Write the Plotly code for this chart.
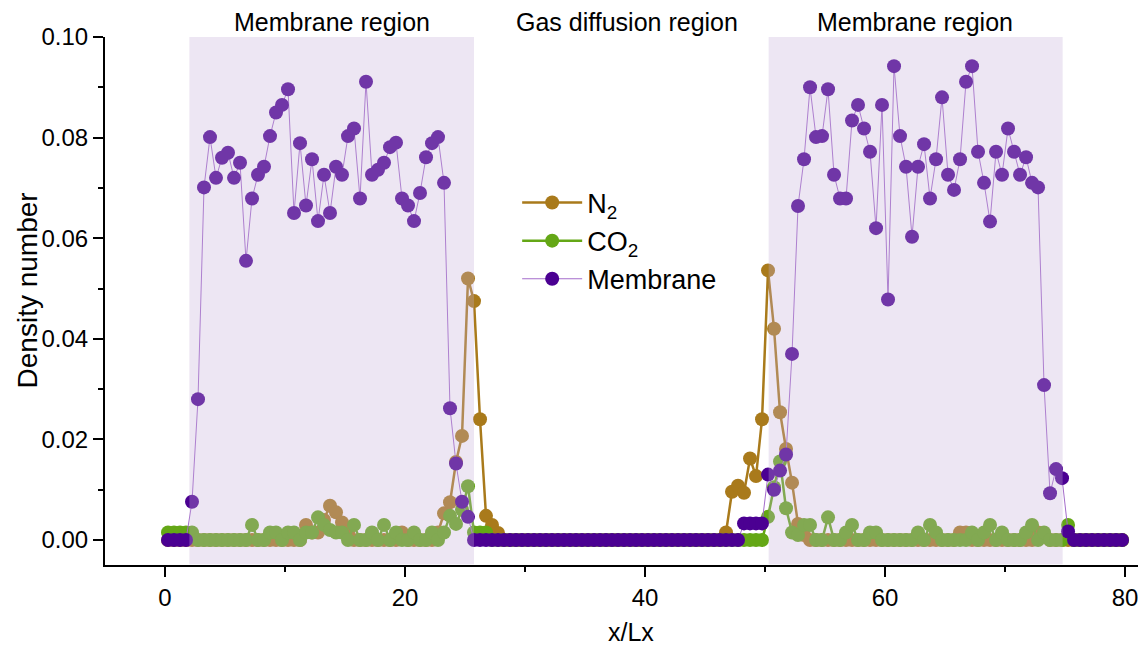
import numpy as np
import plotly.graph_objects as go

# x positions (x/Lx), 160 bins of width 0.5
x_vals = [0.25 + 0.5 * i for i in range(160)]

membrane = [
    0, 0, 0, 0, 0.0076, 0.028, 0.0701, 0.0801, 0.0720, 0.0760,
    0.0770, 0.0720, 0.0750, 0.0555, 0.0679, 0.0726, 0.0742, 0.0803, 0.0850, 0.0865,
    0.0896, 0.0650, 0.0789, 0.0665, 0.0757, 0.0634, 0.0726, 0.0650, 0.0742, 0.0726,
    0.0803, 0.0818, 0.0679, 0.0911, 0.0726, 0.0736, 0.0750, 0.0781, 0.0790, 0.0679,
    0.0665, 0.0634, 0.0690, 0.0761, 0.0789, 0.0801, 0.0710, 0.0262, 0.0152, 0.0076,
    0.0046, 0, 0, 0, 0, 0, 0, 0, 0, 0,
    0, 0, 0, 0, 0, 0, 0, 0, 0, 0,
    0, 0, 0, 0, 0, 0, 0, 0, 0, 0,
    0, 0, 0, 0, 0, 0, 0, 0, 0, 0,
    0, 0, 0, 0, 0, 0, 0.0033, 0.0033, 0.0033, 0.0033,
    0.0130, 0.0100, 0.0138, 0.0170, 0.0370, 0.0664, 0.0757, 0.0900, 0.0801, 0.0803,
    0.0896, 0.0726, 0.0679, 0.0679, 0.0834, 0.0865, 0.0818, 0.0772, 0.0620, 0.0865,
    0.0478, 0.0942, 0.0803, 0.0742, 0.0603, 0.0742, 0.0787, 0.0679, 0.0757, 0.0880,
    0.0726, 0.0696, 0.0757, 0.0911, 0.0942, 0.0772, 0.0710, 0.0633, 0.0772, 0.0726,
    0.0818, 0.0772, 0.0726, 0.0761, 0.0710, 0.0701, 0.0308, 0.0093, 0.0141, 0.0123,
    0.0017, 0, 0, 0, 0, 0, 0, 0, 0, 0,
]

n2 = [
    0, 0, 0, 0, 0, 0, 0, 0, 0, 0,
    0, 0, 0, 0, 0, 0, 0, 0, 0, 0,
    0, 0, 0, 0.0030, 0.0015, 0.0015, 0.0040, 0.0068, 0.0055, 0.0035,
    0.0015, 0, 0, 0, 0, 0, 0, 0, 0, 0.0015,
    0, 0, 0, 0, 0, 0.0015, 0.0053, 0.0075, 0.0155, 0.0207,
    0.0520, 0.0475, 0.0240, 0.0048, 0.0030, 0.0014, 0, 0, 0, 0,
    0, 0, 0, 0, 0, 0, 0, 0, 0, 0,
    0, 0, 0, 0, 0, 0, 0, 0, 0, 0,
    0, 0, 0, 0, 0, 0, 0, 0, 0, 0,
    0, 0, 0, 0.0015, 0.0096, 0.0108, 0.0094, 0.0162, 0.0127, 0.0240,
    0.0536, 0.0420, 0.0254, 0.0181, 0.0114, 0.0032, 0.0010, 0, 0, 0,
    0, 0, 0, 0, 0, 0, 0, 0, 0, 0,
    0, 0, 0, 0, 0, 0, 0, 0, 0, 0,
    0, 0, 0.0015, 0.0015, 0, 0, 0, 0, 0, 0,
    0, 0, 0, 0, 0, 0.0015, 0.0010, 0, 0, 0,
    0, 0, 0, 0, 0, 0, 0, 0, 0, 0,
]

co2 = [
    0.0015, 0.0015, 0.0015, 0.0015, 0.0015, 0, 0, 0, 0, 0,
    0, 0, 0, 0, 0.0030, 0, 0, 0.0015, 0.0015, 0,
    0.0015, 0.0015, 0, 0.0015, 0.0015, 0.0045, 0.0030, 0.0020, 0.0015, 0.0015,
    0, 0.0030, 0, 0, 0.0015, 0, 0.0030, 0, 0.0015, 0,
    0, 0.0015, 0, 0, 0.0015, 0, 0.0015, 0.0048, 0.0032, 0.0060,
    0.0107, 0.0015, 0.0015, 0.0015, 0, 0, 0, 0, 0, 0,
    0, 0, 0, 0, 0, 0, 0, 0, 0, 0,
    0, 0, 0, 0, 0, 0, 0, 0, 0, 0,
    0, 0, 0, 0, 0, 0, 0, 0, 0, 0,
    0, 0, 0, 0, 0, 0, 0, 0, 0, 0,
    0.0046, 0.0105, 0.0156, 0.0063, 0.0015, 0.0010, 0.0030, 0.0030, 0, 0,
    0.0045, 0, 0, 0.0015, 0.0030, 0, 0, 0.0015, 0.0015, 0,
    0, 0, 0, 0, 0, 0.0015, 0, 0.0030, 0.0015, 0,
    0, 0, 0, 0, 0.0015, 0, 0.0015, 0.0030, 0, 0.0015,
    0, 0, 0, 0.0015, 0.0030, 0, 0.0015, 0, 0, 0,
    0.0030, 0, 0, 0, 0, 0, 0, 0, 0, 0,
]

membrane_regions = [(2.03, 25.75), (50.3, 74.8)]
region_labels = [(13.9, "Membrane region"), (38.5, "Gas diffusion region"), (62.5, "Membrane region")]

FONT = "Liberation Sans, Arial, sans-serif"

fig = go.Figure()
fig.add_trace(go.Scatter(
    x=x_vals, y=n2, mode="lines+markers", name="N<sub>2</sub>",
    line=dict(color="#A97A1B", width=2.5),
    marker=dict(color="#A97A1B", size=14, line=dict(width=0)),
))
fig.add_trace(go.Scatter(
    x=x_vals, y=co2, mode="lines+markers", name="CO<sub>2</sub>",
    line=dict(color="#64A716", width=2.5),
    marker=dict(color="#64A716", size=14, line=dict(width=0)),
))
fig.add_trace(go.Scatter(
    x=x_vals, y=membrane, mode="lines+markers", name="Membrane",
    line=dict(color="#A46CCB", width=1),
    marker=dict(color="#4B0092", size=14, line=dict(width=0)),
))

for x0, x1 in membrane_regions:
    fig.add_shape(type="rect", xref="x", yref="y", x0=x0, x1=x1, y0=-0.0048, y1=0.1,
                  fillcolor="rgba(196,173,216,0.31)", line=dict(width=0), layer="above")

for xc, txt in region_labels:
    fig.add_annotation(x=xc, xref="x", y=1.028, yref="paper", text=txt, showarrow=False,
                       font=dict(size=25, color="black", family=FONT), yanchor="middle")

# axis titles placed as annotations for exact positioning
fig.add_annotation(x=0.509, xref="paper", y=-0.127, yref="paper", text="x/Lx", showarrow=False,
                   font=dict(size=25, color="black", family=FONT), xanchor="center", yanchor="middle")
fig.add_annotation(x=-0.0755, xref="paper", y=0.52, yref="paper", text="Density number",
                   showarrow=False, textangle=-90,
                   font=dict(size=28, color="black", family=FONT), xanchor="center", yanchor="middle")

axis_common = dict(
    showline=True, linecolor="black", linewidth=2, showgrid=False, zeroline=False,
    ticks="outside", ticklen=10, tickwidth=2, tickcolor="black",
    tickfont=dict(size=24, color="black", family=FONT),
    ticklabeloverflow="allow",
)

fig.update_xaxes(range=[-5, 81.08], dtick=20, tick0=0,
                 minor=dict(dtick=10, ticks="outside", ticklen=5, tickwidth=2, tickcolor="black"),
                 **axis_common)
fig.update_yaxes(range=[-0.00497, 0.1], dtick=0.02, tick0=0, tickformat=".2f",
                 minor=dict(dtick=0.01, ticks="outside", ticklen=5, tickwidth=2, tickcolor="black"),
                 **axis_common)

fig.update_layout(
    width=1138, height=646,
    margin=dict(l=105, r=0, t=37, b=81),
    paper_bgcolor="white", plot_bgcolor="white",
    font=dict(family=FONT, color="black"),
    showlegend=True,
    legend=dict(x=0.399, y=0.732, xanchor="left", yanchor="top",
                font=dict(size=27, color="black", family=FONT),
                bgcolor="rgba(0,0,0,0)", tracegroupgap=0, itemwidth=60),
)

fig.write_html("out.html")
